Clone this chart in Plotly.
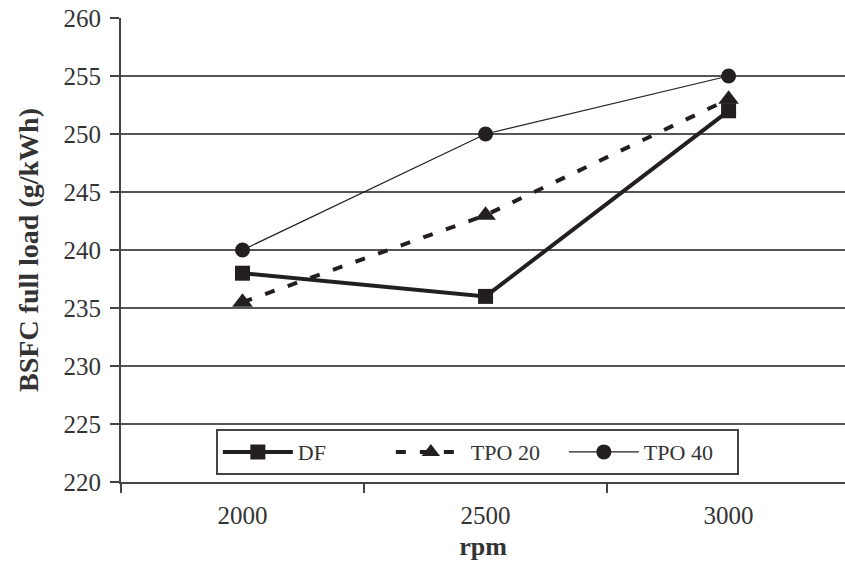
import plotly.graph_objects as go

rpm = ["2000", "2500", "3000"]
df_vals = [238, 236, 252]
tpo20_vals = [235.5, 243, 253]
tpo40_vals = [240, 250, 255]

fig = go.Figure()
fig.add_trace(go.Scatter(x=rpm, y=df_vals, name="DF", mode="lines+markers",
                         line=dict(color="#231f20", width=4),
                         marker=dict(symbol="square", size=15, color="#231f20")))
fig.add_trace(go.Scatter(x=rpm, y=tpo20_vals, name="TPO 20", mode="lines+markers",
                         line=dict(color="#231f20", width=4, dash="10px,14px"),
                         marker=dict(symbol="triangle-up", size=18, color="#231f20")))
fig.add_trace(go.Scatter(x=rpm, y=tpo40_vals, name="TPO 40", mode="lines+markers",
                         line=dict(color="#231f20", width=1.2),
                         marker=dict(symbol="circle", size=15, color="#231f20")))

font = "Liberation Serif, Times New Roman, serif"
fig.update_layout(
    width=845, height=565,
    margin=dict(l=121, r=0, t=18, b=83),
    paper_bgcolor="white", plot_bgcolor="white",
    font=dict(family=font, size=25, color="#333"),
    showlegend=True,
    legend=dict(orientation="h", x=0.131, y=0.114, xanchor="left", yanchor="top",
                bordercolor="#444", borderwidth=2, bgcolor="white",
                font=dict(family=font, size=22, color="#333"),
                itemwidth=70,
                entrywidth=88, entrywidthmode="pixels"),
    xaxis=dict(type="category", range=[-0.5, 2.479], tickson="boundaries",
               ticks="outside", ticklen=9, tickwidth=2, tickcolor="#444",
               showline=True, linecolor="#444", linewidth=2, showgrid=False,
               automargin=False, tickfont=dict(size=25), ticklabelstandoff=10,
               title=dict(text="<b>rpm</b>", font=dict(size=26, color="#333"), standoff=9),
               zeroline=False),
    yaxis=dict(range=[220, 260], dtick=5, tick0=220,
               ticks="outside", ticklen=9, tickwidth=2, tickcolor="#444",
               showline=True, linecolor="#444", linewidth=2, automargin=False,
               tickfont=dict(size=25), ticklabelstandoff=4,
               showgrid=True, gridcolor="#555", gridwidth=2, zeroline=False,
               title=dict(text="<b>BSFC full load (g/kWh)</b>", font=dict(size=28, color="#333"), standoff=17)),
)
fig.write_html("out.html", config={"displayModeBar": False},
               post_script="document.body.style.margin='0';document.body.style.overflow='hidden';")
